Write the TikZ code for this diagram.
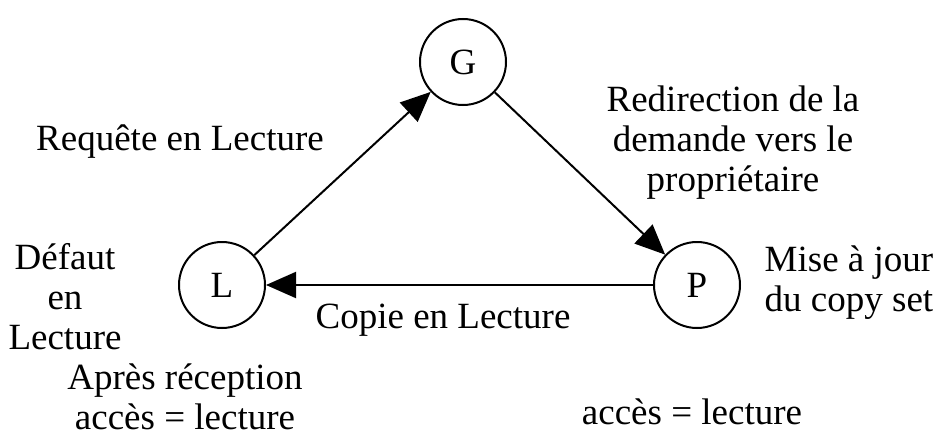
\documentclass[tikz,border=0pt]{standalone}
\usepackage{fontspec}
\setmainfont{Liberation Serif}
\usetikzlibrary{arrows.meta}

\tikzset{
	etat/.style={draw,circle,line width=2pt,minimum size=86pt,inner sep=0pt},
	fleche/.style={line width=2pt,-{Triangle[length=30pt,width=26pt]}},
	texte/.style={align=center,inner sep=0pt}
}

\begin{document}
\begin{tikzpicture}[x=1pt,y=-1pt,font=\fontsize{37}{40}\selectfont]
			\useasboundingbox (0,0) rectangle (943,439);
			\node[etat] (G) at (463,62) {G};
			\node[etat] (L) at (222,285) {L};
			\node[etat] (P) at (697,285) {P};
			\draw[fleche] (L) -- (G);
			\draw[fleche] (G) -- (P);
			\draw[fleche] (P) -- (L);
			\node[texte] (req) at (180,142) {Requête en Lecture};
			\node[texte] (redir) at (733,143) {Redirection de la\\demande vers le\\propriétaire};
			\node[texte] (defaut) at (65,297) {Défaut\\en\\Lecture};
			\node[texte] (maj) at (849,283) {Mise à jour\\du copy set};
			\node[texte] (copie) at (443,320) {Copie en Lecture};
			\node[texte] (apres) at (185,397) {Après réception\\accès = lecture};
			\node[texte] (acces) at (692,412) {accès = lecture};
			\end{tikzpicture}
\end{document}
